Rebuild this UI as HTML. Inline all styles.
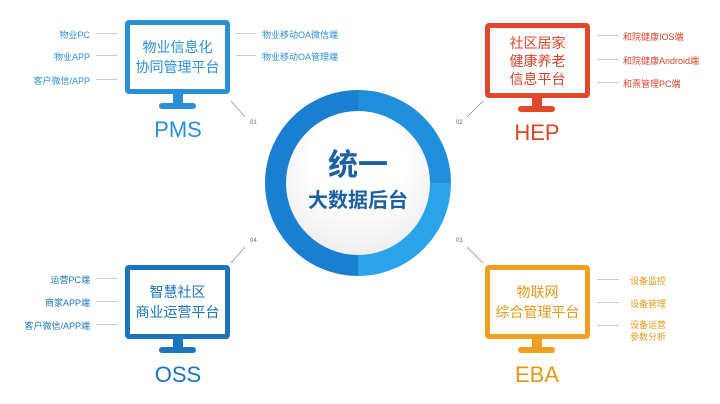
<!DOCTYPE html>
<html><head><meta charset="utf-8"><style>
body{margin:0;width:720px;height:404px;background:#fff;position:relative;overflow:hidden;font-family:"Liberation Sans","Noto Sans CJK SC",sans-serif}
.a{position:absolute}
.mon{position:absolute;width:95px;height:64px;border:5px solid;border-radius:4px;background:#fff;display:flex;align-items:center;justify-content:center;text-align:center;font-size:14px;line-height:20px}
.neck{position:absolute;width:10px;height:9px}
.base{position:absolute;width:37px;height:6px;border-radius:3px}
.lbl{position:absolute;width:106px;text-align:center;font-size:22px}
.t{position:absolute;font-size:9px;white-space:nowrap}
.l{position:absolute;height:1px;background:#ccc}
.n{position:absolute;font-size:6px;color:#666}
</style></head><body>
<!-- center -->
<div class="a" style="left:240px;top:63px;width:236px;height:236px;border-radius:50%;background:radial-gradient(circle at 50% 50%,#fff 70%,#eeeeee 84%,#f3f3f3 92%,#fcfcfc 100%)"></div>
<div class="a" style="left:265px;top:90px;width:186px;height:186px;border-radius:50%;background:conic-gradient(#1f8fdc 0 90deg,#2aa3e8 90deg 180deg,#1a7fd0 180deg 360deg)"></div>
<div class="a" style="left:286px;top:111px;width:144px;height:144px;border-radius:50%;background:radial-gradient(circle at 50% 35%,#fff 40%,#eee 80%,#ddd 100%)"></div>
<div class="a" style="left:300px;top:140px;width:116px;text-align:center;font-size:30px;font-weight:bold;color:#1e5fa0">统一</div>
<div class="a" style="left:300px;top:184px;width:116px;text-align:center;font-size:20px;font-weight:bold;color:#1e5fa0">大数据后台</div>
<div class="n" style="left:250px;top:120px">01</div><div class="n" style="left:456px;top:120px">02</div>
<div class="n" style="left:456px;top:238px">03</div><div class="n" style="left:250px;top:238px">04</div>
<svg class="a" style="left:0;top:0" width="720" height="404"><g stroke="#888" stroke-width="0.7">
<line x1="231" y1="101" x2="245" y2="117"/><line x1="483" y1="101" x2="467" y2="117"/>
<line x1="467" y1="247" x2="483" y2="263"/><line x1="245" y1="247" x2="231" y2="263"/></g></svg>

<!-- PMS -->
<div class="mon" style="left:125px;top:20px;border-color:#2b8fd6;color:#2b8fd6">物业信息化<br>协同管理平台</div>
<div class="neck" style="left:173px;top:94px;background:#2b8fd6"></div>
<div class="base" style="left:159px;top:103px;background:#2b8fd6"></div>
<div class="lbl" style="left:125px;top:117px;color:#2b8fd6">PMS</div>
<div class="t" style="right:630px;top:28px;color:#2b8fd6">物业PC</div><div class="l" style="left:96px;top:33px;width:22px"></div>
<div class="t" style="right:630px;top:50px;color:#2b8fd6">物业APP</div><div class="l" style="left:96px;top:55px;width:22px"></div>
<div class="t" style="right:630px;top:74px;color:#2b8fd6">客户微信/APP</div><div class="l" style="left:96px;top:79px;width:22px"></div>
<div class="t" style="left:262px;top:28px;color:#2b8fd6">物业移动OA微信端</div><div class="l" style="left:236px;top:33px;width:20px"></div>
<div class="t" style="left:262px;top:50px;color:#2b8fd6">物业移动OA管理端</div><div class="l" style="left:236px;top:55px;width:20px"></div>

<!-- HEP -->
<div class="mon" style="left:485px;top:23px;border-color:#e0482c;color:#d8452a;height:65px;line-height:18px">社区居家<br>健康养老<br>信息平台</div>
<div class="neck" style="left:532px;top:98px;background:#e0482c"></div>
<div class="base" style="left:518px;top:106px;background:#e0482c"></div>
<div class="lbl" style="left:484px;top:120px;color:#d8452a">HEP</div>
<div class="l" style="left:597px;top:35px;width:22px"></div><div class="t" style="left:623px;top:30px;color:#d8452a">和院健康IOS端</div>
<div class="l" style="left:597px;top:59px;width:22px"></div><div class="t" style="left:623px;top:54px;color:#d8452a">和院健康Android端</div>
<div class="l" style="left:597px;top:82px;width:22px"></div><div class="t" style="left:623px;top:77px;color:#d8452a">和熹管理PC端</div>

<!-- OSS -->
<div class="mon" style="left:125px;top:265px;border-color:#1b74bc;color:#1b74bc">智慧社区<br>商业运营平台</div>
<div class="neck" style="left:173px;top:339px;background:#1b74bc"></div>
<div class="base" style="left:159px;top:347px;background:#1b74bc"></div>
<div class="lbl" style="left:125px;top:362px;color:#1b74bc">OSS</div>
<div class="t" style="right:630px;top:273px;color:#1b74bc">运营PC端</div><div class="l" style="left:96px;top:278px;width:22px"></div>
<div class="t" style="right:630px;top:296px;color:#1b74bc">商家APP端</div><div class="l" style="left:96px;top:301px;width:22px"></div>
<div class="t" style="right:630px;top:319px;color:#1b74bc">客户微信/APP端</div><div class="l" style="left:96px;top:324px;width:22px"></div>

<!-- EBA -->
<div class="mon" style="left:485px;top:265px;border-color:#f0a020;color:#e09a1c">物联网<br>综合管理平台</div>
<div class="neck" style="left:532px;top:339px;background:#f0a020"></div>
<div class="base" style="left:518px;top:347px;background:#f0a020"></div>
<div class="lbl" style="left:484px;top:362px;color:#e09a1c">EBA</div>
<div class="l" style="left:597px;top:279px;width:22px"></div><div class="t" style="left:630px;top:274px;color:#e09a1c">设备监控</div>
<div class="l" style="left:597px;top:302px;width:22px"></div><div class="t" style="left:630px;top:297px;color:#e09a1c">设备管理</div>
<div class="l" style="left:597px;top:325px;width:22px"></div><div class="t" style="left:630px;top:319px;color:#e09a1c;line-height:12px">设备运营<br>参数分析</div>
</body></html>
